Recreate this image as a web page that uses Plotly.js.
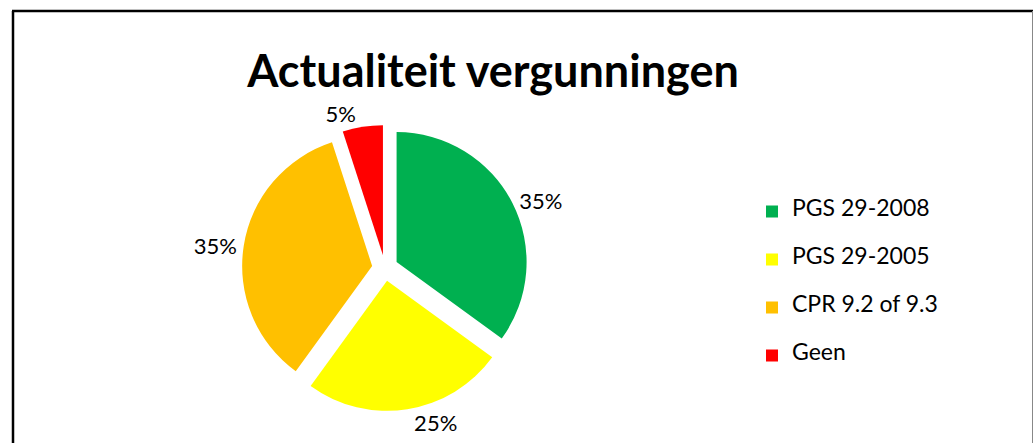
<!DOCTYPE html>
<html>
<head>
<meta charset="utf-8">
<script src="https://cdn.plot.ly/plotly-3.0.1.min.js"></script>
<style>html,body{margin:0;padding:0;background:#fff;}#chart{width:1034px;height:443px;}</style>
</head>
<body>
<div id="chart"></div>
<script>
const labels = ["PGS 29-2008", "PGS 29-2005", "CPR 9.2 of 9.3", "Geen"];
const values = [35, 25, 35, 5];
const colors = ["#00B050", "#FFFF00", "#FFC000", "#FF0000"];
const chartTitle = "Actualiteit vergunningen";

const W = 1034, H = 443;
const px = x => x / W;
const py = y => 1 - y / H;

// legend labels padded with blank lines to reproduce the wide item spacing
const legendLabels = labels.map(l => ' <br><span style="font-size:23px">' + l + '</span><br> ');

const data = [{
  type: 'pie',
  labels: legendLabels,
  values: values,
  sort: false,
  direction: 'clockwise',
  rotation: 0,
  pull: [0.1, 0.1, 0.1, 0.1],
  marker: {colors: colors, line: {width: 0}},
  textinfo: 'percent',
  texttemplate: '%{percent:.0%}',
  textposition: 'outside',
  outsidetextfont: {family: 'Lato, sans-serif', size: 22, color: '#000'},
  hoverinfo: 'percent',
  domain: {x: [px(242), px(528)], y: [py(412), py(124)]}
}];

const layout = {
  width: W, height: H,
  margin: {l: 0, r: 0, t: 0, b: 0},
  paper_bgcolor: '#fff',
  plot_bgcolor: '#fff',
  font: {family: 'Lato, sans-serif', color: '#000'},
  title: {
    text: '<b>' + chartTitle + '</b>',
    font: {family: 'Lato, sans-serif', size: 45, color: '#000'},
    x: px(493), xanchor: 'center',
    y: py(71), yanchor: 'middle'
  },
  showlegend: true,
  legend: {
    x: px(752), xanchor: 'left',
    y: py(284), yanchor: 'middle',
    font: {family: 'Lato, sans-serif', size: 11.54, color: '#000'},
    bgcolor: 'rgba(0,0,0,0)'
  },
  shapes: [
    {type: 'line', xref: 'paper', yref: 'paper', x0: px(13), x1: px(13), y0: py(11), y1: 0, line: {color: '#000', width: 2.5}},
    {type: 'line', xref: 'paper', yref: 'paper', x0: px(12), x1: px(1033), y0: py(11), y1: py(11), line: {color: '#000', width: 2.5}},
    {type: 'line', xref: 'paper', yref: 'paper', x0: px(1032.5), x1: px(1032.5), y0: py(11), y1: 0, line: {color: '#888', width: 1}}
  ]
};

Plotly.newPlot('chart', data, layout, {displayModeBar: false, staticPlot: true});
</script>
</body>
</html>
